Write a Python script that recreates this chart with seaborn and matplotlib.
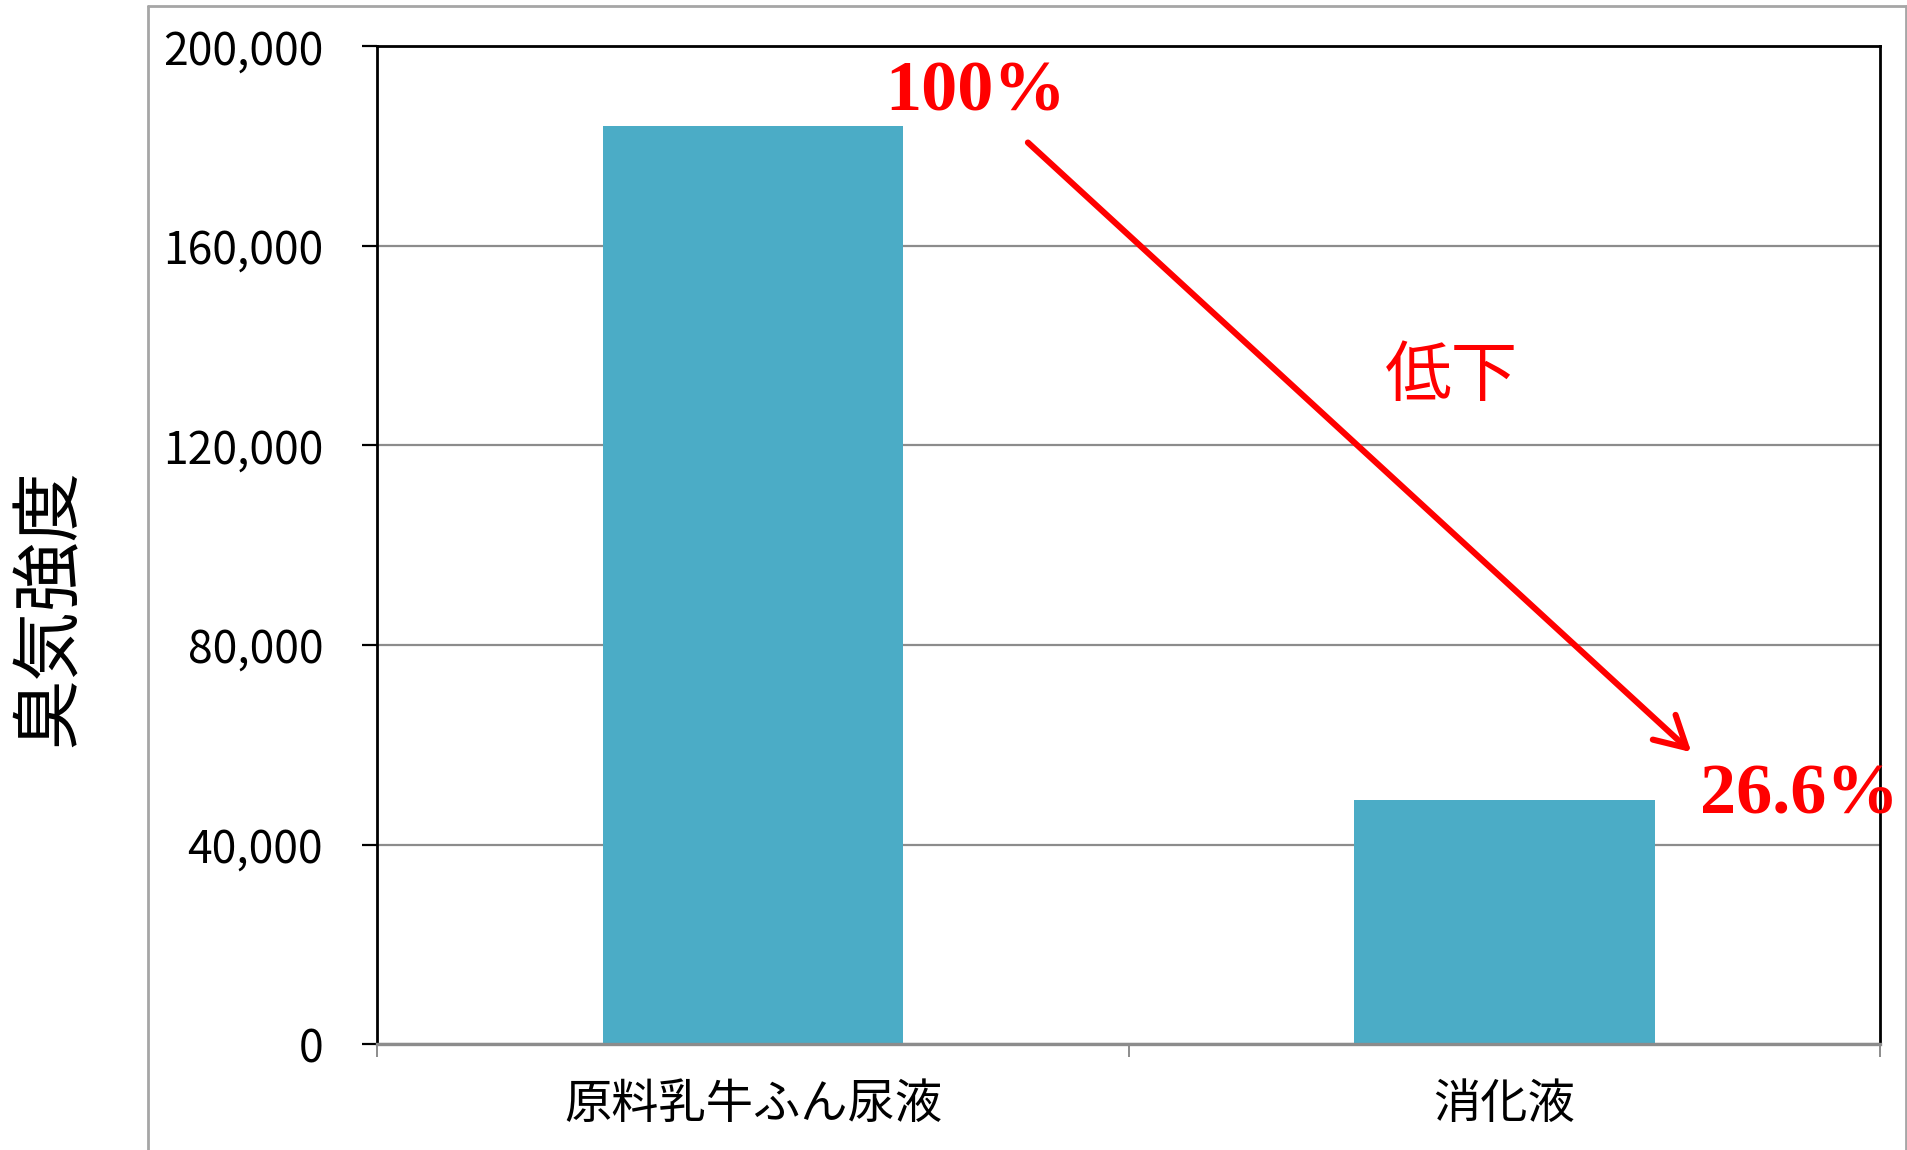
import matplotlib
matplotlib.use("Agg")
import matplotlib.pyplot as plt
from matplotlib.lines import Line2D
from matplotlib.ticker import FuncFormatter, MultipleLocator, FixedLocator
import seaborn as sns
import pandas as pd

# Odour intensity before and after anaerobic digestion
categories = ["原料乳牛ふん尿液", "消化液"]
odor_intensity = [184000, 48944]
pct_labels = ["100%", "26.6%"]
trend_label = "低下"
y_label = "臭気強度"

sns.set_theme(style="white")
plt.rcParams["font.family"] = ["Noto Sans CJK JP", "DejaVu Sans"]

df = pd.DataFrame({"sample": categories, "odor": odor_intensity})

fig = plt.figure(figsize=(19.08, 11.5), dpi=100)
ax = fig.add_axes([0.1977, 0.0921, 0.9853 - 0.1977, 0.9598 - 0.0921])

bar_color = "#4BACC6"
sns.barplot(data=df, x="sample", y="odor", color=bar_color, saturation=1,
            width=0.4, ax=ax, edgecolor="none")

ax.set_xlim(-0.5, 1.5)
ax.set_ylim(0, 200000)
ax.yaxis.set_major_locator(MultipleLocator(40000))
ax.yaxis.set_major_formatter(FuncFormatter(lambda v, _: f"{int(v):,}"))

ax.grid(axis="y", color="#8c8c8c", linewidth=1.6)
ax.set_axisbelow(True)

for side in ("left", "top", "right"):
    ax.spines[side].set_visible(True)
    ax.spines[side].set_color("black")
    ax.spines[side].set_linewidth(2.0)
ax.spines["bottom"].set_color("#8c8c8c")
ax.spines["bottom"].set_linewidth(2.4)

ax.tick_params(axis="y", which="major", left=True, direction="out", length=11,
               width=1.6, color="black", labelsize=32, pad=28, labelcolor="black")
ax.tick_params(axis="x", which="major", bottom=False, length=0, labelsize=34,
               pad=26, labelcolor="black")
ax.xaxis.set_minor_locator(FixedLocator([-0.5, 0.5, 1.5]))
ax.tick_params(axis="x", which="minor", bottom=True, direction="out", length=9,
               width=1.4, color="#8c8c8c")

ax.set_xlabel("")
ax.set_ylabel(y_label, fontsize=50, color="black", labelpad=0)
ax.yaxis.set_label_coords(-0.194, 0.437)

# Percent annotations above each stage
red = "#FF0000"
serif_family = ["Liberation Serif", "DejaVu Serif"]
ax.text(0.297, 190700, pct_labels[0], color=red, fontsize=52, ha="center",
        va="center", fontfamily=serif_family, fontweight="bold", clip_on=False)
ax.text(1.393, 49700, pct_labels[1], color=red, fontsize=52, ha="center",
        va="center", fontfamily=serif_family, fontweight="bold", clip_on=False)

# Downward trend arrow
ax.annotate("", xy=(1.249, 58500), xytext=(0.366, 180700),
            arrowprops=dict(arrowstyle="->,head_length=1.0,head_width=0.55",
                            color=red, lw=4.4, mutation_scale=22,
                            shrinkA=0, shrinkB=0, capstyle="round"))
ax.text(0.93, 133700, trend_label, color=red, fontsize=48, ha="center",
        va="center")

# Chart frame around the whole drawing
frame_kw = dict(color="#a6a6a6", linewidth=2.0, transform=fig.transFigure)
fig.add_artist(Line2D([0.0778, 0.0778], [0.0, 0.9947], **frame_kw))
fig.add_artist(Line2D([0.0778, 0.9987], [0.9947, 0.9947], **frame_kw))
fig.add_artist(Line2D([0.9987, 0.9987], [0.0, 0.9947], **frame_kw))

fig.savefig("out.png", dpi=100, facecolor="white")
